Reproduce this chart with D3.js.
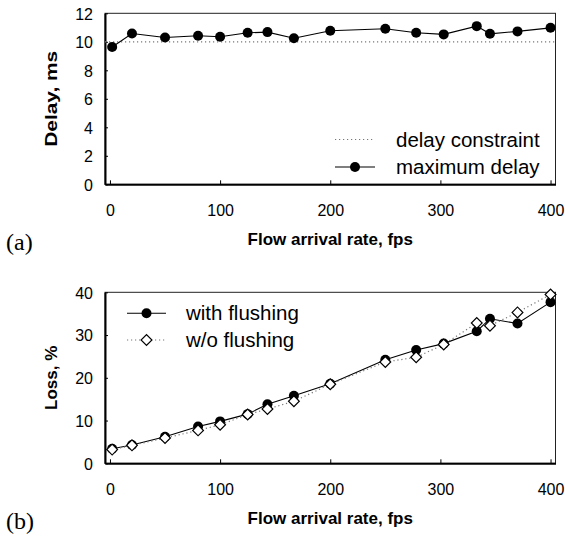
<!doctype html>
<meta charset="utf-8">
<style>
body { margin: 0; background: #fff; }
svg { display: block; }
.tick text { font-family: "Liberation Sans", Arial, sans-serif; font-size: 16px; fill: #000; }
.title { font-family: "Liberation Sans", Arial, sans-serif; font-weight: bold; font-size: 17px; }
.leg { font-family: "Liberation Sans", Arial, sans-serif; font-size: 20.5px; }
.tag { font-family: "Liberation Serif", "Times New Roman", serif; font-size: 24px; }
</style>
<body>
<script src="https://cdn.jsdelivr.net/npm/d3@7"></script>
<script>
  // flow arrival rates (fps), shared by both panels
  const rate = [2, 20, 50, 80, 100, 125, 143, 167, 200, 250, 278, 303, 333, 345, 370, 400];
  // (a) delay
  const maxDelay = [9.63, 10.58, 10.3, 10.42, 10.35, 10.63, 10.68, 10.25, 10.78, 10.92, 10.63, 10.52, 11.1, 10.56, 10.73, 10.98];
  const delayConstraint = 10;
  // (b) loss
  const lossFlush = [3.4, 4.3, 6.2, 8.6, 9.8, 11.5, 13.8, 15.8, 18.6, 24.2, 26.5, 28.0, 30.9, 33.8, 32.7, 37.7];
  const lossNoFlush = [3.2, 4.2, 5.9, 7.7, 9.0, 11.4, 12.7, 14.5, 18.5, 23.7, 24.8, 27.8, 32.8, 32.2, 35.3, 39.5];
  const xTicks = [0, 100, 200, 300, 400];
  const delayTicks = [0, 2, 4, 6, 8, 10, 12];
  const lossTicks = [0, 10, 20, 30, 40];

  const svg = d3.select("body").append("svg")
    .attr("width", 565)
    .attr("height", 546);

  let x = d3.scaleLinear().domain([-4.5, 404.5]).range([105, 555.5]);

  function panel(y, ticks, yTitle, yTitleLen, tag) {
    let g = svg.append("g");
    let [y0, y1] = y.range();

    // box
    g.append("rect")
      .attr("x", x.range()[0]).attr("y", y1)
      .attr("width", x.range()[1] - x.range()[0]).attr("height", y0 - y1)
      .attr("fill", "none").attr("stroke", "#222").attr("stroke-width", 1);

    let xAxis = d3.axisBottom(x).tickValues(ticks.x).tickSizeInner(-4).tickSizeOuter(0).tickPadding(20);
    let yAxis = d3.axisLeft(y).tickValues(ticks.y).tickSizeInner(-3).tickSizeOuter(0).tickPadding(12);

    let gx = g.append("g").attr("transform", "translate(0," + y0 + ")").call(xAxis);
    let gy = g.append("g").attr("transform", "translate(" + x.range()[0] + ",0)").call(yAxis);
    gx.select(".domain").attr("stroke", "#000").attr("stroke-width", 2);
    gy.select(".domain").attr("stroke", "#000").attr("stroke-width", 2);
    g.selectAll(".tick line").attr("stroke", "#000");
    gy.selectAll(".tick text").attr("dy", "0.36em");

    g.append("text").attr("class", "title")
      .attr("x", (x.range()[0] + x.range()[1]) / 2).attr("y", y0 + 61)
      .attr("text-anchor", "middle")
      .text("Flow arrival rate, fps");

    let yt = g.append("text").attr("class", "title")
      .attr("transform", "translate(57," + (y0 + y1) / 2 + ") rotate(-90)")
      .attr("text-anchor", "middle")
      .text(yTitle);
    if (yTitleLen) yt.attr("textLength", yTitleLen).attr("lengthAdjust", "spacingAndGlyphs");

    svg.append("text").attr("class", "tag")
      .attr("x", 6).attr("y", y0 + 66)
      .text(tag);
    return g;
  }

  function circles(g, y, vals) {
    g.append("path")
      .attr("d", d3.line().x((d, i) => x(rate[i])).y(d => y(d))(vals))
      .attr("fill", "none").attr("stroke", "#000").attr("stroke-width", 1.1);
    g.selectAll(null).data(vals).enter().append("circle")
      .attr("cx", (d, i) => x(rate[i])).attr("cy", d => y(d))
      .attr("r", 5).attr("fill", "#000");
  }

  const diamond = d3.symbol().type(d3.symbolSquare).size(58);
  function diamonds(g, y, vals) {
    g.append("path")
      .attr("d", d3.line().x((d, i) => x(rate[i])).y(d => y(d))(vals))
      .attr("fill", "none").attr("stroke", "#777").attr("stroke-width", 1.2)
      .attr("stroke-dasharray", "1.2,2.8");
    g.selectAll(null).data(vals).enter().append("path")
      .attr("d", diamond)
      .attr("transform", (d, i) => "translate(" + x(rate[i]) + "," + y(d) + ") rotate(45)")
      .attr("fill", "#fff").attr("stroke", "#000").attr("stroke-width", 1.2);
  }

  // ---- (a) delay ----
  let yA = d3.scaleLinear().domain([0, 12]).range([184.3, 13.3]);
  let ga = panel(yA, {x: xTicks, y: delayTicks}, "Delay, ms", 96, "(a)");

  ga.append("line")
    .attr("x1", x.range()[0]).attr("x2", x.range()[1])
    .attr("y1", yA(delayConstraint)).attr("y2", yA(delayConstraint))
    .attr("stroke", "#777").attr("stroke-width", 1.2).attr("stroke-dasharray", "1.2,2.8");
  circles(ga, yA, maxDelay);

  // legend (a)
  ga.append("line").attr("x1", 335).attr("x2", 375).attr("y1", 139.5).attr("y2", 139.5)
    .attr("stroke", "#777").attr("stroke-width", 1.2).attr("stroke-dasharray", "1.2,2.8");
  ga.append("text").attr("class", "leg").attr("x", 396).attr("y", 146.5).text("delay constraint");
  ga.append("line").attr("x1", 335).attr("x2", 375).attr("y1", 167).attr("y2", 167)
    .attr("stroke", "#000").attr("stroke-width", 1.1);
  ga.append("circle").attr("cx", 355).attr("cy", 167).attr("r", 5).attr("fill", "#000");
  ga.append("text").attr("class", "leg").attr("x", 396).attr("y", 174).text("maximum delay");

  // ---- (b) loss ----
  let yB = d3.scaleLinear().domain([0, 40]).range([463.3, 292.3]);
  let gb = panel(yB, {x: xTicks, y: lossTicks}, "Loss, %", null, "(b)");
  circles(gb, yB, lossFlush);
  diamonds(gb, yB, lossNoFlush);

  // legend (b)
  gb.append("line").attr("x1", 127).attr("x2", 166).attr("y1", 313.3).attr("y2", 313.3)
    .attr("stroke", "#000").attr("stroke-width", 1.1);
  gb.append("circle").attr("cx", 146.5).attr("cy", 313.3).attr("r", 5).attr("fill", "#000");
  gb.append("text").attr("class", "leg").attr("x", 186).attr("y", 320.3).text("with flushing");
  gb.append("line").attr("x1", 127).attr("x2", 166).attr("y1", 340).attr("y2", 340)
    .attr("stroke", "#777").attr("stroke-width", 1.2).attr("stroke-dasharray", "1.2,2.8");
  gb.append("path").attr("d", diamond)
    .attr("transform", "translate(146.5,340) rotate(45)")
    .attr("fill", "#fff").attr("stroke", "#000").attr("stroke-width", 1.2);
  gb.append("text").attr("class", "leg").attr("x", 186).attr("y", 347).text("w/o flushing");
</script>
